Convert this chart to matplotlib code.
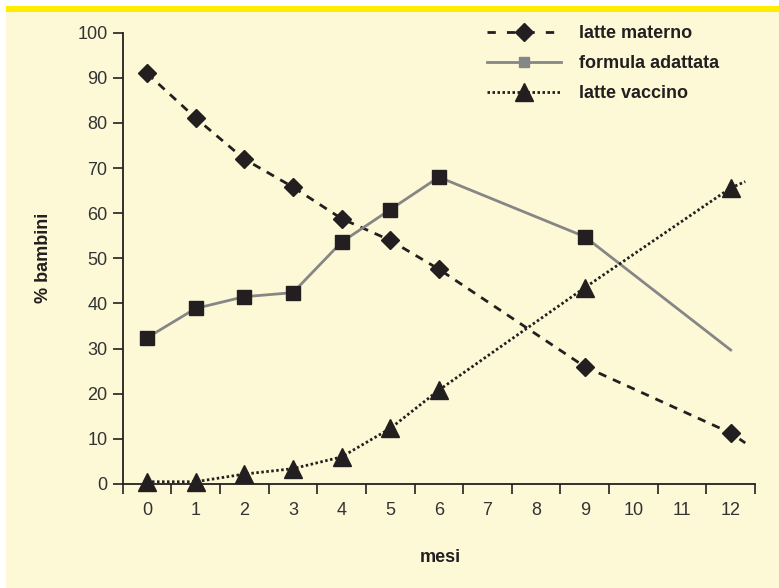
import matplotlib.pyplot as plt
from matplotlib.lines import Line2D
from matplotlib.patches import Rectangle

plt.rcParams['font.family'] = ['Liberation Sans', 'DejaVu Sans']

# categories on the x axis (months)
mesi = ['0', '1', '2', '3', '4', '5', '6', '7', '8', '9', '10', '11', '12']

# months with a measurement
mesi_rilevati = [0, 1, 2, 3, 4, 5, 6, 9, 12]
latte_materno = [91.0, 81.1, 72.0, 65.8, 58.8, 54.0, 47.6, 26.0, 11.3]
formula_adattata = [32.4, 38.9, 41.5, 42.4, 53.6, 60.8, 68.0, 54.8, 29.7]
latte_vaccino = [0.5, 0.5, 2.2, 3.4, 6.0, 12.3, 20.8, 43.5, 65.6]

# the curves run on a little past the last month
mese_coda = 12.3
materno_coda = 9.1
vaccino_coda = 67.0

dark = '#231f20'
gray = '#868686'
bg = '#fdf9d7'

fig = plt.figure(figsize=(7.79, 5.88), dpi=100)
fig.patch.set_facecolor('white')
fig.patches.append(Rectangle((6 / 779, 0), 1, 1 - 6 / 588, transform=fig.transFigure,
                             facecolor=bg, edgecolor='none', zorder=-2))
fig.patches.append(Rectangle((6 / 779, 1 - 12 / 588), 1, 6 / 588, transform=fig.transFigure,
                             facecolor='#ffec00', edgecolor='none', zorder=-1))

ax = fig.add_axes([122.7 / 779, 1 - 484 / 588, (755 - 122.7) / 779, (484 - 32.7) / 588])
ax.set_facecolor('none')

ax.plot(mesi_rilevati + [mese_coda], latte_materno + [materno_coda], color=dark, lw=2,
        dashes=(3, 2.6), marker='D', markersize=9, markevery=list(range(len(mesi_rilevati))),
        markerfacecolor=dark, markeredgecolor=dark, zorder=3)
ax.plot(mesi_rilevati, formula_adattata, color=gray, lw=2, marker='s', markersize=10,
        markevery=list(range(len(mesi_rilevati) - 1)),
        markerfacecolor=dark, markeredgecolor=dark, zorder=3)
ax.plot(mesi_rilevati + [mese_coda], latte_vaccino + [vaccino_coda], color=dark, lw=2,
        dashes=(0.9, 0.9), dash_capstyle='butt', marker='^', markersize=13,
        markevery=list(range(len(mesi_rilevati))),
        markerfacecolor=dark, markeredgecolor=dark, zorder=3)

ax.set_xlim(-0.5, len(mesi) - 0.5)
ax.set_ylim(0, 100)
ax.set_yticks(range(0, 101, 10))
ax.set_xticks(range(len(mesi)))
ax.set_xticklabels(mesi)
ax.set_xticks([i - 0.5 for i in range(len(mesi) + 1)], minor=True)
ax.tick_params(axis='x', which='major', length=0, pad=13, labelsize=13, labelcolor='#333333')
ax.tick_params(axis='x', which='minor', length=7, width=1.2, color=dark, direction='out')
ax.tick_params(axis='y', length=7, width=1.2, color=dark, pad=4, labelsize=13, labelcolor='#333333')

for side in ['top', 'right']:
    ax.spines[side].set_visible(False)
for side in ['left', 'bottom']:
    ax.spines[side].set_color(dark)
    ax.spines[side].set_linewidth(1.3)
for line in ax.lines:
    line.set_clip_on(False)

fig.text(43 / 779, 1 - 258 / 588, '% bambini', rotation=90, ha='center', va='center',
         fontsize=13, fontweight='bold', color=dark)
fig.text(440 / 779, 1 - 558 / 588, 'mesi', ha='center', va='center',
         fontsize=13, fontweight='bold', color=dark)

handles = [
    Line2D([], [], color=dark, lw=2, dashes=(3, 4), marker='D', markersize=9,
           markerfacecolor=dark, markeredgecolor=dark),
    Line2D([], [], color=gray, lw=2, marker='s', markersize=7,
           markerfacecolor=gray, markeredgecolor=gray),
    Line2D([], [], color=dark, lw=2, dashes=(0.9, 0.9), dash_capstyle='butt', marker='^',
           markersize=13, markerfacecolor=dark, markeredgecolor=dark),
]
labels = ['latte materno', 'formula adattata', 'latte vaccino']
leg = fig.legend(handles, labels, loc='upper left', bbox_to_anchor=(487 / 779, 1 - 25 / 588),
                 frameon=False, borderpad=0, borderaxespad=0, handlelength=4.1,
                 handletextpad=1.0, labelspacing=0.72, prop={'size': 13, 'weight': 'bold'})
for t in leg.get_texts():
    t.set_color(dark)

fig.savefig('out.png', dpi=100, facecolor=fig.get_facecolor())
